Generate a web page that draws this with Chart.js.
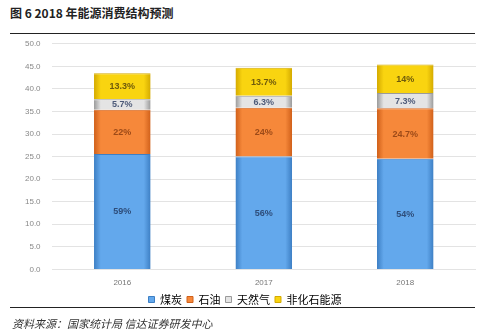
<!DOCTYPE html>
<html>
<head>
<meta charset="utf-8">
<script src="https://cdn.jsdelivr.net/npm/chart.js@4"></script>
<style>
  html, body { margin: 0; padding: 0; background: #fff; }
  body { width: 482px; height: 331px; position: relative; overflow: hidden; font-family: "Noto Sans CJK SC", "Noto Sans", sans-serif; }
  .title { position: absolute; left: 10px; top: 4px; font-size: 12px; font-weight: bold; color: #222; }
  .rule { position: absolute; left: 10px; width: 465px; height: 1px; background: #222; }
  .chart-box { position: absolute; left: 0; top: 28px; width: 482px; height: 287px; }
  .source { position: absolute; left: 12px; top: 315px; font-size: 11px; font-style: italic; color: #333; }
</style>
</head>
<body>
<div class="title">图 6 2018 年能源消费结构预测</div>
<div class="rule" style="top: 33px;"></div>
<div class="chart-box"><canvas id="energyChart"></canvas></div>
<div class="rule" style="top: 307px;"></div>
<div class="source">资料来源：国家统计局 信达证券研发中心</div>

<script>
const years = ['2016', '2017', '2018'];
const seriesNames = ['煤炭', '石油', '天然气', '非化石能源'];

// consumption by source (stacked)
const coal = [25.6, 25.0, 24.5];
const oil = [9.8, 10.8, 11.2];
const gas = [2.3, 2.7, 3.4];
const nonFossil = [5.8, 6.2, 6.3];

// share labels printed on each segment
const coalShare = ['59%', '56%', '54%'];
const oilShare = ['22%', '24%', '24.7%'];
const gasShare = ['5.7%', '6.3%', '7.3%'];
const nonFossilShare = ['13.3%', '13.7%', '14%'];

const yTicks = [0, 5, 10, 15, 20, 25, 30, 35, 40, 45, 50];

const palette = [
  { edge: '#3d7fc4', mid: '#63a8ec', text: '#2e4d7a' },
  { edge: '#d0601a', mid: '#f6883a', text: '#9c4a18' },
  { edge: '#9a9a9a', mid: '#e4e4e4', text: '#4d5a78' },
  { edge: '#d4aa00', mid: '#f9d410', text: '#6e5a0c' },
];

const barFraction = 0.4;

const shadeBar = (colors) => (ctx) => {
  const chart = ctx.chart;
  const area = chart.chartArea;
  if (!area) return colors.mid;
  const cx = chart.scales.x.getPixelForValue(ctx.dataIndex);
  const half = (area.width / years.length) * barFraction / 2;
  const g = chart.ctx.createLinearGradient(cx - half, 0, cx + half, 0);
  g.addColorStop(0, colors.edge);
  g.addColorStop(0.12, colors.mid);
  g.addColorStop(0.88, colors.mid);
  g.addColorStop(1, colors.edge);
  return g;
};

const shareLabels = [coalShare, oilShare, gasShare, nonFossilShare];

const segmentLabels = {
  id: 'segmentLabels',
  afterDatasetsDraw(chart) {
    const c = chart.ctx;
    c.save();
    c.textAlign = 'center';
    c.textBaseline = 'middle';
    c.font = 'bold 9px "Liberation Sans", Arial, sans-serif';
    chart.data.datasets.forEach((ds, i) => {
      const meta = chart.getDatasetMeta(i);
      meta.data.forEach((bar, j) => {
        c.fillStyle = palette[i].text;
        c.fillText(shareLabels[i][j], bar.x, (bar.y + bar.base) / 2 + 0.5);
      });
    });
    c.restore();
  },
};

const makeSet = (label, data, i) => ({
  label,
  data,
  backgroundColor: shadeBar(palette[i]),
  borderColor: palette[i].edge,
  borderWidth: { top: 1, bottom: 0, left: 0, right: 0 },
  barPercentage: barFraction,
  categoryPercentage: 1,
});

new Chart(document.getElementById('energyChart'), {
  type: 'bar',
  data: {
    labels: years,
    datasets: [
      makeSet(seriesNames[0], coal, 0),
      makeSet(seriesNames[1], oil, 1),
      makeSet(seriesNames[2], gas, 2),
      makeSet(seriesNames[3], nonFossil, 3),
    ],
  },
  options: {
    responsive: true,
    maintainAspectRatio: false,
    animation: false,
    layout: { padding: { left: 14, right: 6, top: 3, bottom: 0 } },
    plugins: {
      legend: {
        position: 'bottom',
        labels: {
          color: '#555',
          boxWidth: 6,
          boxHeight: 6,
          padding: 5,
          font: { size: 11, family: '"Noto Sans CJK SC", sans-serif' },
          generateLabels: (chart) => chart.data.datasets.map((ds, i) => ({
            text: ds.label,
            fillStyle: palette[i].mid,
            strokeStyle: palette[i].edge,
            lineWidth: 1,
            datasetIndex: i,
          })),
        },
      },
      tooltip: { enabled: false },
    },
    scales: {
      x: {
        stacked: true,
        grid: { display: false },
        border: { display: false },
        ticks: { color: '#777', font: { size: 8, family: '"Liberation Sans", Arial, sans-serif' }, padding: 1 },
      },
      y: {
        stacked: true,
        min: 0,
        max: 50,
        afterBuildTicks: (axis) => { axis.ticks = yTicks.map((v) => ({ value: v })); },
        grid: { color: '#e3e3e3', drawTicks: false },
        border: { display: false },
        ticks: {
          color: '#888',
          padding: 11,
          font: { size: 8, family: '"Liberation Sans", Arial, sans-serif' },
          callback: (v) => v.toFixed(1),
        },
      },
    },
  },
  plugins: [segmentLabels],
});
</script>
</body>
</html>
